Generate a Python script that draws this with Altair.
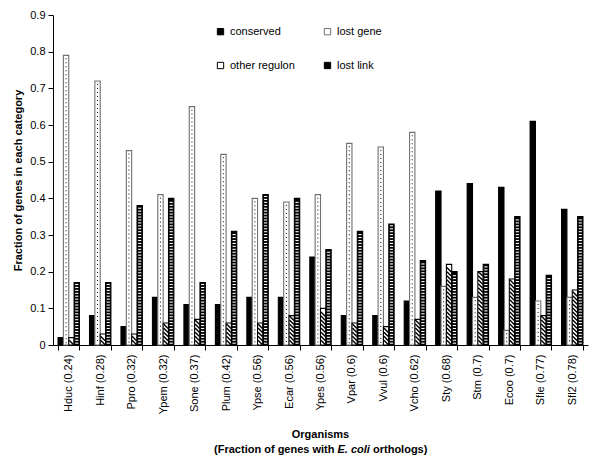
import altair as alt
import pandas as pd

organisms = ["Hduc (0.24)", "Hinf (0.28)", "Ppro (0.32)", "Ypem (0.32)", "Sone (0.37)",
             "Plum (0.42)", "Ypse (0.56)", "Ecar (0.56)", "Ypes (0.56)", "Vpar (0.6)",
             "Vvul (0.6)", "Vcho (0.62)", "Sty (0.68)", "Stm (0.7)", "Ecoo (0.7)",
             "Sfle (0.77)", "Sfl2 (0.78)"]
categories = ["conserved", "lost gene", "other regulon", "lost link"]
conserved = [0.02, 0.08, 0.05, 0.13, 0.11, 0.11, 0.13, 0.13, 0.24, 0.08, 0.08, 0.12, 0.42, 0.44, 0.43, 0.61, 0.37]
lost_gene = [0.79, 0.72, 0.53, 0.41, 0.65, 0.52, 0.40, 0.39, 0.41, 0.55, 0.54, 0.58, 0.16, 0.13, 0.04, 0.12, 0.13]
other_regulon = [0.02, 0.03, 0.03, 0.06, 0.07, 0.06, 0.06, 0.08, 0.10, 0.06, 0.05, 0.07, 0.22, 0.20, 0.18, 0.08, 0.15]
lost_link = [0.17, 0.17, 0.38, 0.40, 0.17, 0.31, 0.41, 0.40, 0.26, 0.31, 0.33, 0.23, 0.20, 0.22, 0.35, 0.19, 0.35]
y_ticks = [0, 0.1, 0.2, 0.3, 0.4, 0.5, 0.6, 0.7, 0.8, 0.9]

series = [conserved, lost_gene, other_regulon, lost_link]
rows = []
for cat, vals in zip(categories, series):
    for org, v in zip(organisms, vals):
        rows.append({"org": org, "cat": cat, "value": v})
df = pd.DataFrame(rows)

FONT = "Liberation Sans"

x_enc = alt.X("org:N", sort=organisms,
              scale=alt.Scale(paddingInner=0.32, paddingOuter=0.16),
              axis=alt.Axis(title=None, labelAngle=-90, tickBand="extent",
                            domainColor="black", tickColor="black", tickSize=5,
                            labelColor="black", labelFont=FONT, labelFontSize=11,
                            labelPadding=4))
xoff = alt.XOffset("cat:N", sort=categories,
                   scale=alt.Scale(domain=categories, paddingInner=0, paddingOuter=0))
y_scale = alt.Scale(domain=[0, 0.9], nice=False)
y_axis = alt.Axis(values=y_ticks, format=".1~f", grid=False, labelOverlap=False,
                  title="Fraction of genes in each category",
                  titleFont=FONT, titleFontSize=11, titleFontWeight="bold",
                  titleColor="black", titlePadding=6,
                  domainColor="black", tickColor="black", tickSize=5,
                  labelColor="black", labelFont=FONT, labelFontSize=11,
                  labelPadding=3)

legend = alt.Legend(title=None, orient="none", legendX=162, legendY=11,
                    direction="horizontal", columns=2, columnPadding=27, rowPadding=22,
                    symbolType="square", symbolSize=40, symbolStrokeWidth=1,
                    labelFont=FONT, labelFontSize=11, labelColor="black")

base = alt.Chart(df)

bars = base.mark_bar(strokeWidth=1.1).encode(
    x=x_enc, xOffset=xoff,
    y=alt.Y("value:Q", scale=y_scale, axis=y_axis),
    fill=alt.Fill("cat:N", sort=categories,
                  scale=alt.Scale(domain=categories, range=["black", "white", "white", "black"]),
                  legend=legend),
    stroke=alt.Stroke("cat:N", sort=categories,
                      scale=alt.Scale(domain=categories,
                                      range=["black", "#707070", "black", "black"]),
                      legend=legend),
)

dots = base.transform_filter(alt.datum.cat == "lost gene").transform_calculate(
    top="datum.value - 0.008"
).mark_rule(color="black", strokeWidth=1, strokeDash=[1, 3]).encode(
    x=x_enc, xOffset=xoff,
    y=alt.Y("top:Q", scale=y_scale, axis=y_axis),
    y2=alt.datum(0.004)
)

rungs = base.transform_filter(alt.datum.cat == "lost link").transform_calculate(
    lev="sequence(0.005, datum.value - 0.003, 0.008)"
).transform_flatten(["lev"]).mark_tick(color="white", size=3.2, thickness=1.1, opacity=1).encode(
    x=x_enc, xOffset=xoff,
    y=alt.Y("lev:Q", scale=y_scale, axis=y_axis)
)

hatch = base.transform_filter(alt.datum.cat == "other regulon").transform_calculate(
    lev="sequence(0.007, datum.value - 0.005, 0.011)"
).transform_flatten(["lev"]).mark_point(
    shape="M-1,-1L1,1", filled=False, color="black", strokeWidth=1.4, size=20, opacity=1
).encode(
    x=x_enc, xOffset=xoff,
    y=alt.Y("lev:Q", scale=y_scale, axis=y_axis)
)

title_df = pd.DataFrame({"t": [0]})
tbase = alt.Chart(title_df)
t1 = tbase.mark_text(text="Organisms", font=FONT, fontSize=11, fontWeight="bold",
                     align="center", baseline="middle", color="black").encode(
    x=alt.value(267.5), y=alt.value(420))
t2a = tbase.mark_text(text="(Fraction of genes with", font=FONT, fontSize=11, fontWeight="bold",
                      align="right", baseline="middle", color="black").encode(
    x=alt.value(281.5), y=alt.value(435))
t2b = tbase.mark_text(text="E. coli", font=FONT, fontSize=11, fontWeight="bold",
                      fontStyle="italic", align="left", baseline="middle", color="black").encode(
    x=alt.value(284.5), y=alt.value(435))
t2c = tbase.mark_text(text="orthologs)", font=FONT, fontSize=11, fontWeight="bold",
                      align="left", baseline="middle", color="black").encode(
    x=alt.value(320), y=alt.value(435))

chart = alt.layer(bars, dots, rungs, hatch, t1, t2a, t2b, t2c).properties(
    width=535, height=330,
    autosize=alt.AutoSizeParams(type="none"),
    padding={"left": 45, "top": 7, "right": 4, "bottom": 119},
    background="white",
).configure_view(stroke=None)

chart.save("out.html", embed_options={"renderer": "svg", "actions": False})
